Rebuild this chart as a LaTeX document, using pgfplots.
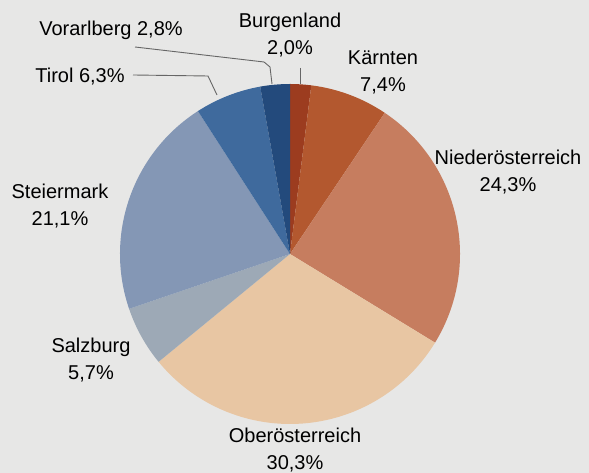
\documentclass[border=0pt]{standalone}
\usepackage{pgfplots}
\usepackage{pgfplotstable}
\pgfplotsset{compat=1.18}
\usepackage{fontspec}
\setmainfont{Liberation Sans}

\definecolor{bgc}{HTML}{E7E7E6}
\definecolor{pie0}{HTML}{9C3C1F}
\definecolor{pie1}{HTML}{B3582F}
\definecolor{pie2}{HTML}{C67D5F}
\definecolor{pie3}{HTML}{E8C6A3}
\definecolor{pie4}{HTML}{9DA9B6}
\definecolor{pie5}{HTML}{8497B5}
\definecolor{pie6}{HTML}{3F6A9D}
\definecolor{pie7}{HTML}{234A7C}

% share by federal state, clockwise from the top
\pgfplotstableread[col sep=comma]{
land,pct
Burgenland,2.0
Kärnten,7.4
Niederösterreich,24.3
Oberösterreich,30.3
Salzburg,5.7
Steiermark,21.1
Tirol,6.3
Vorarlberg,2.8
}\pietable

\begin{document}
\begin{tikzpicture}
\begin{axis}[
    x=1pt, y=1pt,
    xmin=-290, xmax=299,
    ymin=-219, ymax=254,
    hide axis,
    clip=false,
]
\fill[bgc] (rel axis cs:0,0) rectangle (rel axis cs:1,1);
\pgfplotsextra{%
  \gdef\cum{90}%
  \pgfplotstableforeachcolumnelement{pct}\of\pietable\as\p{%
    \pgfmathsetmacro\e{\cum-\p*360/99.9}%
    \fill[pie\pgfplotstablerow] (axis cs:0,0) -- (axis cs:{170*cos(\cum)},{170*sin(\cum)})
        arc[start angle=\cum, end angle=\e, radius=170pt] -- cycle;
    \xdef\cum{\e}%
  }%
}
% leader lines
\draw[black!60, line width=0.9pt] (axis cs:-155,207) -- (axis cs:-26,192) -- (axis cs:-20,187) -- (axis cs:-18,170);
\draw[black!60, line width=0.9pt] (axis cs:10,186) -- (axis cs:10,170);
\draw[black!60, line width=0.9pt] (axis cs:-157,179) -- (axis cs:-82,178) -- (axis cs:-73,159);
% labels
\begin{scope}[every node/.style={font=\fontsize{20}{27}\selectfont, align=center, inner sep=0pt}]
\node at (axis cs:-179,224) {Vorarlberg 2,8\%};
\node at (axis cs:0,219) {Burgenland\\2,0\%};
\node at (axis cs:93,182) {Kärnten\\7,4\%};
\node at (axis cs:218,82) {Niederösterreich\\24,3\%};
\node at (axis cs:-210,177) {Tirol 6,3\%};
\node at (axis cs:-230,48) {Steiermark\\21,1\%};
\node at (axis cs:-199,-106) {Salzburg\\5,7\%};
\node at (axis cs:5,-196) {Oberösterreich\\30,3\%};
\end{scope}
\end{axis}
\end{tikzpicture}
\end{document}
